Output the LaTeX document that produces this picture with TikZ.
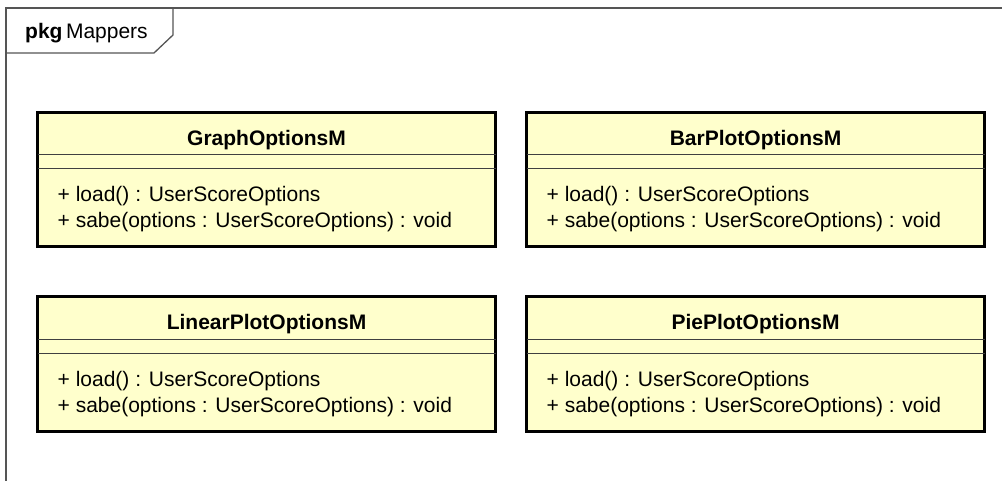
\documentclass[tikz,border=0pt]{standalone}
\usepackage{fontspec}
\setmainfont{Liberation Sans}
\usepackage{xcolor}
\usepackage{tikz}
\usetikzlibrary{positioning}
\definecolor{classfill}{HTML}{FFFFCC}
\definecolor{framegray}{HTML}{555555}
\tikzset{
	frameline/.style = {draw=framegray, line width=1.3pt},
	classbox/.style = {draw=black, line width=3pt, fill=classfill, minimum width=458pt, minimum height=134pt, inner sep=0, outer sep=0},
	classname/.style = {font=\fontsize{21}{26}\selectfont\bfseries, anchor=base, inner sep=0},
	member/.style = {anchor=base west, inner sep=0},
	divider/.style = {draw=black!75, line width=1pt}
}

\begin{document}
\begin{tikzpicture}[x=1pt, y=-1pt, font=\fontsize{21}{26}\selectfont]
	\useasboundingbox (0,0) rectangle (1002,481);
	
	% package frame and its tab
	\draw[frameline] (6,481) |- (1002,8);
	\draw[frameline] (6,53) -- (154,53) -- (173,35) -- (173,8);
	\node [anchor=base west, inner sep=0] (pkg) at (25,39) {\textbf{pkg}\,Mappers};
	
	\node [classbox] (graph) at (266.5,180) {};
	\node [classbox] [right=31pt of graph] (bar) {};
	\node [classbox] [below=50pt of graph] (linear) {};
	\node [classbox] [below=50pt of bar] (pie) {};
	
	\node [classname] (graphname) at ([yshift=-33pt]graph.north) {GraphOptionsM};
	\node [classname] (barname) at ([yshift=-33pt]bar.north) {BarPlotOptionsM};
	\node [classname] (linearname) at ([yshift=-33pt]linear.north) {LinearPlotOptionsM};
	\node [classname] (piename) at ([yshift=-33pt]pie.north) {PiePlotOptionsM};
	
	\draw[divider] ([yshift=-42pt]graph.north west) -- ([yshift=-42pt]graph.north east);
	\draw[divider] ([yshift=-56pt]graph.north west) -- ([yshift=-56pt]graph.north east);
	\draw[divider] ([yshift=-42pt]bar.north west) -- ([yshift=-42pt]bar.north east);
	\draw[divider] ([yshift=-56pt]bar.north west) -- ([yshift=-56pt]bar.north east);
	\draw[divider] ([yshift=-42pt]linear.north west) -- ([yshift=-42pt]linear.north east);
	\draw[divider] ([yshift=-56pt]linear.north west) -- ([yshift=-56pt]linear.north east);
	\draw[divider] ([yshift=-42pt]pie.north west) -- ([yshift=-42pt]pie.north east);
	\draw[divider] ([yshift=-56pt]pie.north west) -- ([yshift=-56pt]pie.north east);
	
	\node [member] (graphload) at ([xshift=20pt,yshift=-89pt]graph.north west) {+ load() : UserScoreOptions};
	\node [member] (graphsabe) at ([xshift=20pt,yshift=-115pt]graph.north west) {+ sabe(options : UserScoreOptions) : void};
	\node [member] (barload) at ([xshift=20pt,yshift=-89pt]bar.north west) {+ load() : UserScoreOptions};
	\node [member] (barsabe) at ([xshift=20pt,yshift=-115pt]bar.north west) {+ sabe(options : UserScoreOptions) : void};
	\node [member] (linearload) at ([xshift=20pt,yshift=-89pt]linear.north west) {+ load() : UserScoreOptions};
	\node [member] (linearsabe) at ([xshift=20pt,yshift=-115pt]linear.north west) {+ sabe(options : UserScoreOptions) : void};
	\node [member] (pieload) at ([xshift=20pt,yshift=-89pt]pie.north west) {+ load() : UserScoreOptions};
	\node [member] (piesabe) at ([xshift=20pt,yshift=-115pt]pie.north west) {+ sabe(options : UserScoreOptions) : void};
\end{tikzpicture}
\end{document}
